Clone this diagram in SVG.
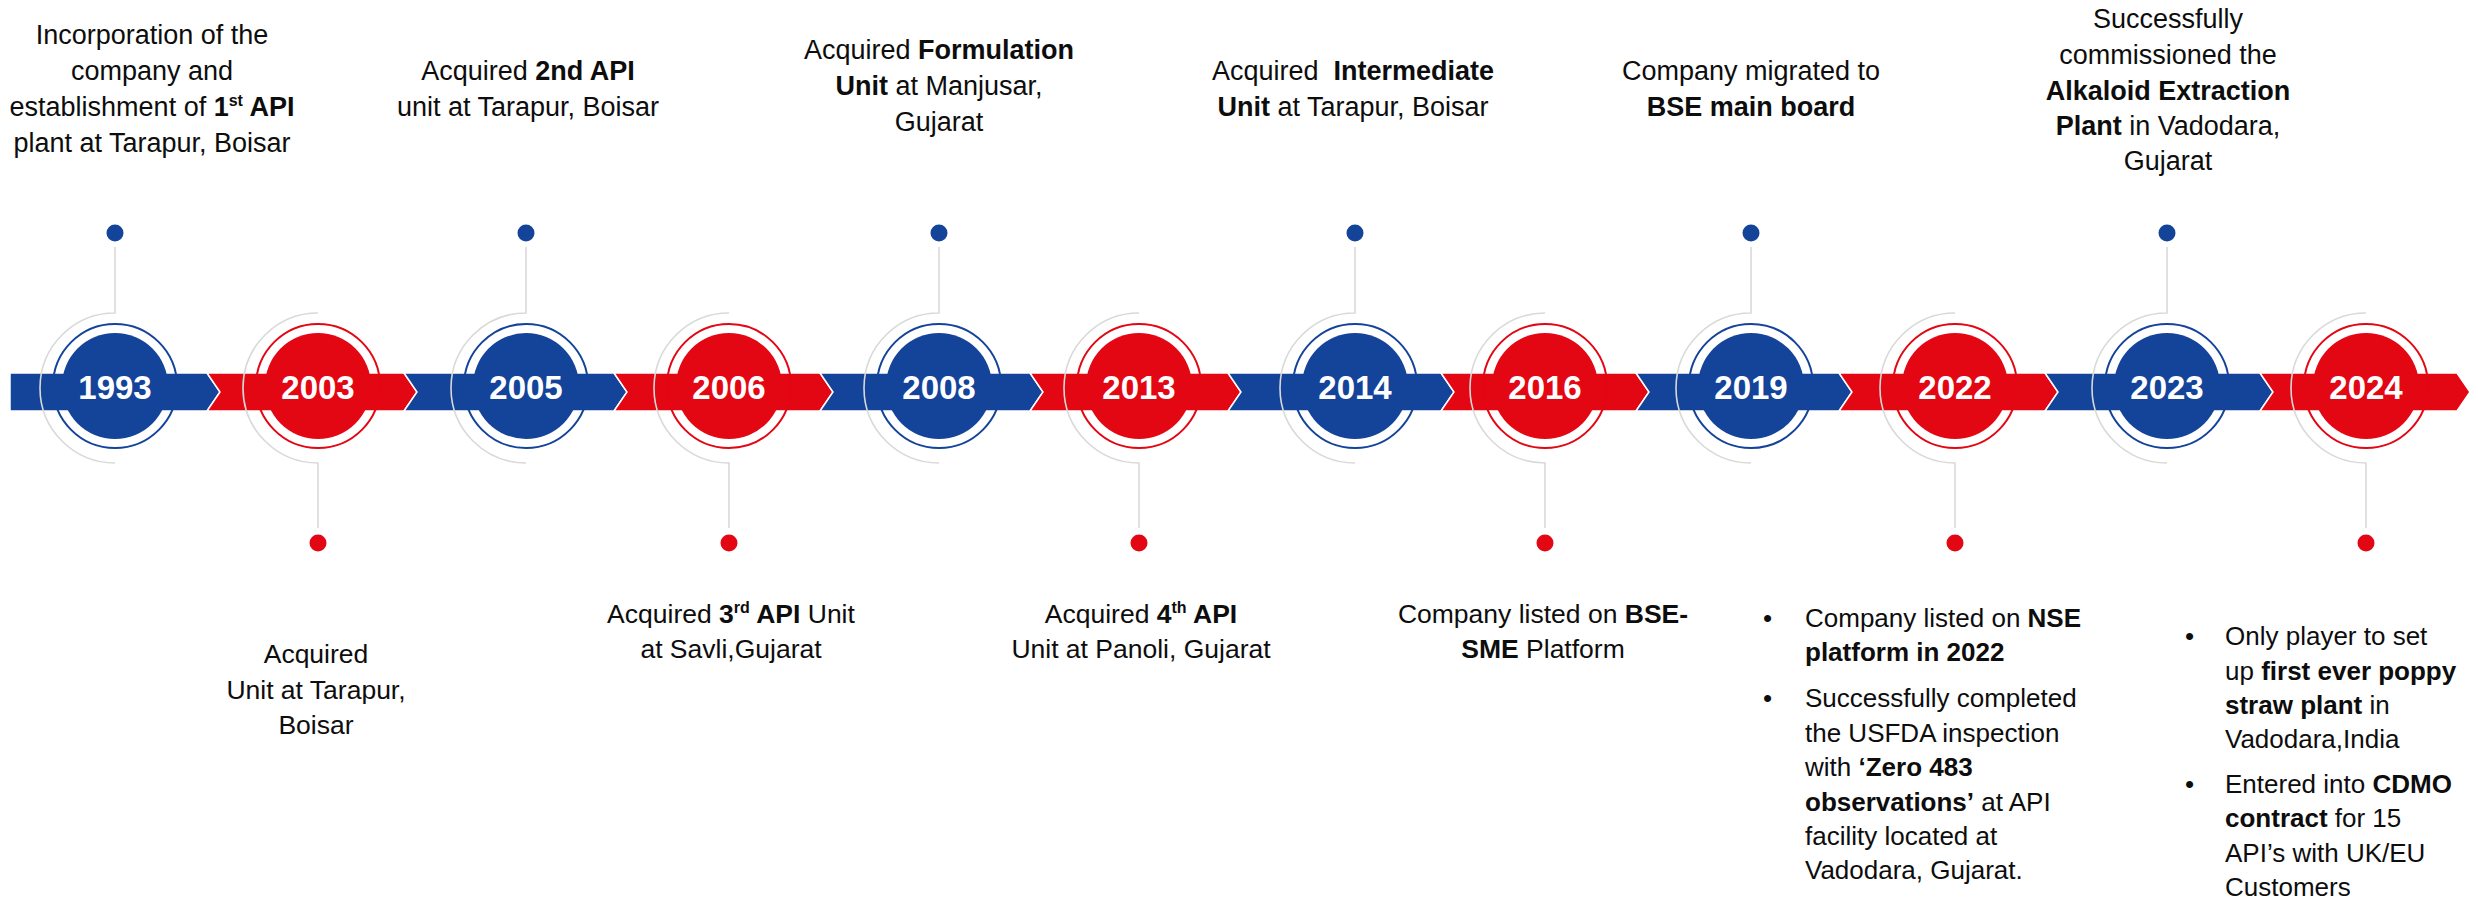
<svg xmlns="http://www.w3.org/2000/svg" width="2478" height="900" viewBox="0 0 2478 900">
<style>
.blue{fill:#14439a}
.red{fill:#e30613}
.seg{stroke:#ffffff;stroke-width:1.5}
.ringb{fill:none;stroke:#14439a;stroke-width:2}
.ringr{fill:none;stroke:#e30613;stroke-width:2}
.yr{font-family:"Liberation Sans",Arial,sans-serif;font-weight:bold;font-size:33px;fill:#ffffff;text-anchor:middle}
.tt{font-family:"Liberation Sans",Arial,sans-serif;font-size:27px;fill:#0d0d0d;text-anchor:middle}
.tb{font-family:"Liberation Sans",Arial,sans-serif;font-size:26.5px;fill:#0d0d0d;text-anchor:middle}
.bl{font-family:"Liberation Sans",Arial,sans-serif;font-size:26px;fill:#0d0d0d}
.b{font-weight:bold}
.conn{fill:none;stroke:#d9d9d9;stroke-width:1.6}
</style>
<rect width="2478" height="900" fill="#ffffff"/>

<g id="timeline-band">
<polygon class="seg blue" points="10,373 207,373 220,392 207,411 10,411"/>
<polygon class="seg red" points="207,373 404,373 417,392 404,411 207,411 220,392"/>
<polygon class="seg blue" points="404,373 614,373 627,392 614,411 404,411 417,392"/>
<polygon class="seg red" points="614,373 820,373 833,392 820,411 614,411 627,392"/>
<polygon class="seg blue" points="820,373 1030,373 1043,392 1030,411 820,411 833,392"/>
<polygon class="seg red" points="1030,373 1228,373 1241,392 1228,411 1030,411 1043,392"/>
<polygon class="seg blue" points="1228,373 1441,373 1454,392 1441,411 1228,411 1241,392"/>
<polygon class="seg red" points="1441,373 1636,373 1649,392 1636,411 1441,411 1454,392"/>
<polygon class="seg blue" points="1636,373 1839,373 1852,392 1839,411 1636,411 1649,392"/>
<polygon class="seg red" points="1839,373 2045,373 2058,392 2045,411 1839,411 1852,392"/>
<polygon class="seg blue" points="2045,373 2260,373 2273,392 2260,411 2045,411 2058,392"/>
<polygon class="seg red" points="2260,373 2457,373 2470,392 2457,411 2260,411 2273,392"/>
</g>

<g id="connectors">
<path class="conn" d="M115,247 V313 A75,75 0 0 0 115,463"/>
<path class="conn" d="M318,313 A75,75 0 0 0 318,463 V528"/>
<path class="conn" d="M526,247 V313 A75,75 0 0 0 526,463"/>
<path class="conn" d="M729,313 A75,75 0 0 0 729,463 V528"/>
<path class="conn" d="M939,247 V313 A75,75 0 0 0 939,463"/>
<path class="conn" d="M1139,313 A75,75 0 0 0 1139,463 V528"/>
<path class="conn" d="M1355,247 V313 A75,75 0 0 0 1355,463"/>
<path class="conn" d="M1545,313 A75,75 0 0 0 1545,463 V528"/>
<path class="conn" d="M1751,247 V313 A75,75 0 0 0 1751,463"/>
<path class="conn" d="M1955,313 A75,75 0 0 0 1955,463 V528"/>
<path class="conn" d="M2167,247 V313 A75,75 0 0 0 2167,463"/>
<path class="conn" d="M2366,313 A75,75 0 0 0 2366,463 V528"/>
</g>

<g id="node-1993">
<circle class="ringb" cx="115" cy="386" r="62"/>
<circle class="blue" cx="115" cy="386" r="53"/>
<text class="yr" x="115" y="399">1993</text>
<circle class="blue" cx="115" cy="233" r="8.5"/>
<text class="tt" x="152" y="44">Incorporation of the</text>
<text class="tt" x="152" y="80">company and</text>
<text class="tt" x="152" y="116">establishment of <tspan class="b">1</tspan><tspan class="b" font-size="16" dy="-10">st</tspan><tspan class="b" dy="10"> API</tspan></text>
<text class="tt" x="152" y="152">plant at Tarapur, Boisar</text>
</g>

<g id="node-2003">
<circle class="ringr" cx="318" cy="386" r="62"/>
<circle class="red" cx="318" cy="386" r="53"/>
<text class="yr" x="318" y="399">2003</text>
<circle class="red" cx="318" cy="543" r="8.5"/>
<text class="tb" x="316" y="663">Acquired</text>
<text class="tb" x="316" y="699">Unit at Tarapur,</text>
<text class="tb" x="316" y="734">Boisar</text>
</g>

<g id="node-2005">
<circle class="ringb" cx="526" cy="386" r="62"/>
<circle class="blue" cx="526" cy="386" r="53"/>
<text class="yr" x="526" y="399">2005</text>
<circle class="blue" cx="526" cy="233" r="8.5"/>
<text class="tt" x="528" y="80">Acquired <tspan class="b">2nd API</tspan></text>
<text class="tt" x="528" y="116">unit at Tarapur, Boisar</text>
</g>

<g id="node-2006">
<circle class="ringr" cx="729" cy="386" r="62"/>
<circle class="red" cx="729" cy="386" r="53"/>
<text class="yr" x="729" y="399">2006</text>
<circle class="red" cx="729" cy="543" r="8.5"/>
<text class="tb" x="731" y="623">Acquired <tspan class="b">3</tspan><tspan class="b" font-size="16" dy="-10">rd</tspan><tspan class="b" dy="10"> API</tspan> Unit</text>
<text class="tb" x="731" y="658">at Savli,Gujarat</text>
</g>

<g id="node-2008">
<circle class="ringb" cx="939" cy="386" r="62"/>
<circle class="blue" cx="939" cy="386" r="53"/>
<text class="yr" x="939" y="399">2008</text>
<circle class="blue" cx="939" cy="233" r="8.5"/>
<text class="tt" x="939" y="59">Acquired <tspan class="b">Formulation</tspan></text>
<text class="tt" x="939" y="95"><tspan class="b">Unit</tspan> at Manjusar,</text>
<text class="tt" x="939" y="131">Gujarat</text>
</g>

<g id="node-2013">
<circle class="ringr" cx="1139" cy="386" r="62"/>
<circle class="red" cx="1139" cy="386" r="53"/>
<text class="yr" x="1139" y="399">2013</text>
<circle class="red" cx="1139" cy="543" r="8.5"/>
<text class="tb" x="1141" y="623">Acquired <tspan class="b">4</tspan><tspan class="b" font-size="16" dy="-10">th</tspan><tspan class="b" dy="10"> API</tspan></text>
<text class="tb" x="1141" y="658">Unit at Panoli, Gujarat</text>
</g>

<g id="node-2014">
<circle class="ringb" cx="1355" cy="386" r="62"/>
<circle class="blue" cx="1355" cy="386" r="53"/>
<text class="yr" x="1355" y="399">2014</text>
<circle class="blue" cx="1355" cy="233" r="8.5"/>
<text class="tt" x="1353" y="80" style="white-space:pre">Acquired  <tspan class="b">Intermediate</tspan></text>
<text class="tt" x="1353" y="116"><tspan class="b">Unit</tspan> at Tarapur, Boisar</text>
</g>

<g id="node-2016">
<circle class="ringr" cx="1545" cy="386" r="62"/>
<circle class="red" cx="1545" cy="386" r="53"/>
<text class="yr" x="1545" y="399">2016</text>
<circle class="red" cx="1545" cy="543" r="8.5"/>
<text class="tb" x="1543" y="623">Company listed on <tspan class="b">BSE-</tspan></text>
<text class="tb" x="1543" y="658"><tspan class="b">SME</tspan> Platform</text>
</g>

<g id="node-2019">
<circle class="ringb" cx="1751" cy="386" r="62"/>
<circle class="blue" cx="1751" cy="386" r="53"/>
<text class="yr" x="1751" y="399">2019</text>
<circle class="blue" cx="1751" cy="233" r="8.5"/>
<text class="tt" x="1751" y="80">Company migrated to</text>
<text class="tt b" x="1751" y="116">BSE main board</text>
</g>

<g id="node-2022">
<circle class="ringr" cx="1955" cy="386" r="62"/>
<circle class="red" cx="1955" cy="386" r="53"/>
<text class="yr" x="1955" y="399">2022</text>
<circle class="red" cx="1955" cy="543" r="8.5"/>
<text class="bl" x="1763" y="627">•</text>
<text class="bl" x="1805" y="627">Company listed on <tspan class="b">NSE</tspan></text>
<text class="bl b" x="1805" y="661">platform in 2022</text>
<text class="bl" x="1763" y="707">•</text>
<text class="bl" x="1805" y="707">Successfully completed</text>
<text class="bl" x="1805" y="742">the USFDA inspection</text>
<text class="bl" x="1805" y="776">with <tspan class="b">‘Zero 483</tspan></text>
<text class="bl" x="1805" y="811"><tspan class="b">observations’</tspan> at API</text>
<text class="bl" x="1805" y="845">facility located at</text>
<text class="bl" x="1805" y="879">Vadodara, Gujarat.</text>
</g>

<g id="node-2023">
<circle class="ringb" cx="2167" cy="386" r="62"/>
<circle class="blue" cx="2167" cy="386" r="53"/>
<text class="yr" x="2167" y="399">2023</text>
<circle class="blue" cx="2167" cy="233" r="8.5"/>
<text class="tt" x="2168" y="28">Successfully</text>
<text class="tt" x="2168" y="64">commissioned the</text>
<text class="tt b" x="2168" y="100">Alkaloid Extraction</text>
<text class="tt" x="2168" y="135"><tspan class="b">Plant</tspan> in Vadodara,</text>
<text class="tt" x="2168" y="170">Gujarat</text>
</g>

<g id="node-2024">
<circle class="ringr" cx="2366" cy="386" r="62"/>
<circle class="red" cx="2366" cy="386" r="53"/>
<text class="yr" x="2366" y="399">2024</text>
<circle class="red" cx="2366" cy="543" r="8.5"/>
<text class="bl" x="2185" y="645">•</text>
<text class="bl" x="2225" y="645">Only player to set</text>
<text class="bl" x="2225" y="680">up <tspan class="b">first ever poppy</tspan></text>
<text class="bl" x="2225" y="714"><tspan class="b">straw plant</tspan> in</text>
<text class="bl" x="2225" y="748">Vadodara,India</text>
<text class="bl" x="2185" y="793">•</text>
<text class="bl" x="2225" y="793">Entered into <tspan class="b">CDMO</tspan></text>
<text class="bl" x="2225" y="827"><tspan class="b">contract</tspan> for 15</text>
<text class="bl" x="2225" y="862">API’s with UK/EU</text>
<text class="bl" x="2225" y="896">Customers</text>
</g>
</svg>
